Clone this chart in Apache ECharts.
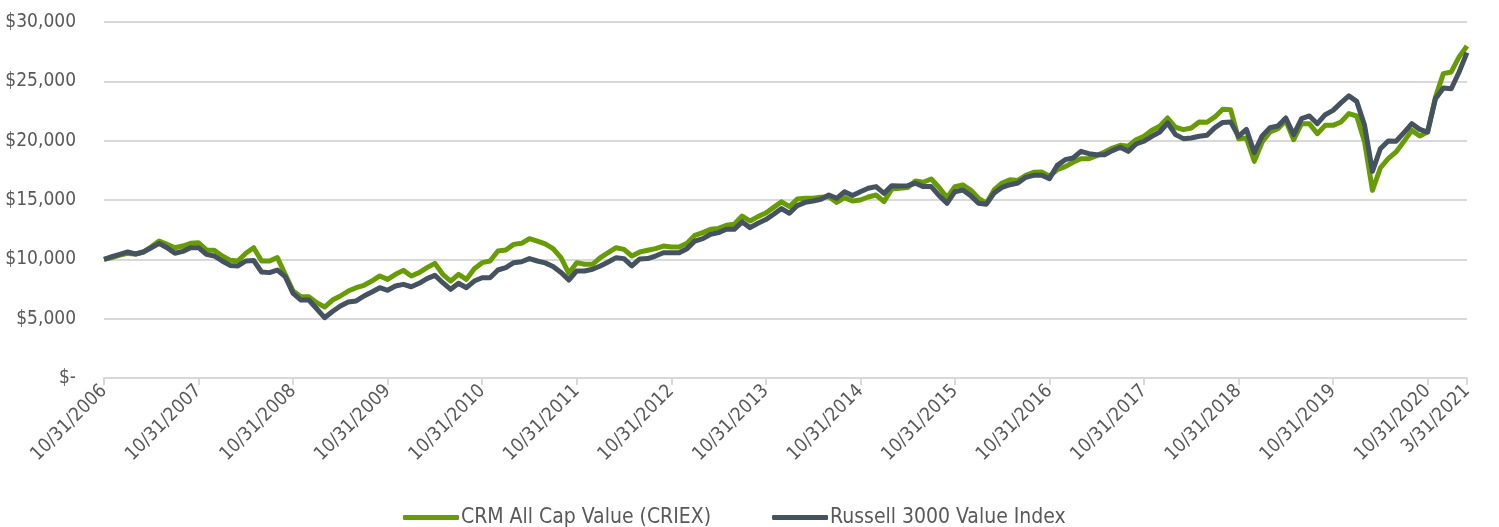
<!DOCTYPE html>
<html>
<head>
<meta charset="utf-8">
<script src="https://cdn.jsdelivr.net/npm/echarts@6/dist/echarts.min.js"></script>
<style>
  html, body { margin: 0; padding: 0; background: #fff; }
  #chart { width: 1499px; height: 527px; }
</style>
</head>
<body>
<div id="chart"></div>
<script>
// month-end dates, 10/31/2006 .. 3/31/2021
var months = [];
(function () {
  var y = 2006, m = 10;
  while (y < 2021 || (y === 2021 && m <= 3)) {
    var last = new Date(y, m, 0).getDate();
    months.push(m + '/' + last + '/' + y);
    m++;
    if (m > 12) { m = 1; y++; }
  }
})();

var shownLabels = ['10/31/2006', '10/31/2007', '10/31/2008', '10/31/2009', '10/31/2010',
  '10/31/2011', '10/31/2012', '10/31/2013', '10/31/2014', '10/31/2015', '10/31/2016',
  '10/31/2017', '10/31/2018', '10/31/2019', '10/31/2020', '3/31/2021'];

var yTicks = [0, 5000, 10000, 15000, 20000, 25000, 30000];

var crmValues = [
  10000, 10150, 10350, 10500, 10450, 10620, 11050, 11540, 11260, 10980, 11120, 11350,
  11400, 10790, 10760, 10280, 9920, 9860, 10510, 10980, 9860, 9860, 10140, 8740,
  7330, 6850, 6850, 6350, 5980, 6570, 6910, 7330, 7610, 7810, 8170, 8600,
  8310, 8740, 9070, 8600, 8880, 9300, 9660, 8740, 8170, 8740, 8310, 9210,
  9720, 9860, 10700, 10790, 11260, 11350, 11740, 11540, 11300, 10900, 10140, 8820,
  9720, 9580, 9580, 10140, 10560, 10980, 10840, 10280, 10620, 10760, 10900, 11120,
  11040, 11040, 11350, 12020, 12250, 12530, 12610, 12870, 12950, 13650, 13230, 13600,
  13900, 14380, 14850, 14440, 15080, 15140, 15140, 15230, 15280, 14800, 15200, 14920,
  15000, 15250, 15420, 14860, 15930, 15990, 16050, 16600, 16490, 16770, 16050, 15200,
  16130, 16270, 15840, 15140, 14740, 15870, 16430, 16710, 16650, 17080, 17340, 17370,
  17000, 17560, 17810, 18180, 18480, 18480, 18740, 19050, 19380, 19610, 19530, 20080,
  20370, 20880, 21210, 21910, 21130, 20930, 21070, 21580, 21550, 22000, 22650, 22610,
  20170, 20230, 18260, 19890, 20730, 21010, 21690, 20080, 21430, 21430, 20590, 21290,
  21290, 21580, 22280, 22080, 19890, 15810, 17700, 18480, 19050, 19940, 20870, 20400,
  20730, 23680, 25650, 25790, 27060, 27980
];

var russellValues = [
  10000, 10220, 10420, 10620, 10450, 10620, 10980, 11350, 10980, 10510, 10670, 10980,
  10980, 10420, 10280, 9860, 9490, 9440, 9860, 9900, 8930, 8880, 9100, 8540,
  7130, 6570, 6570, 5840, 5080, 5600, 6070, 6400, 6490, 6910, 7250, 7610,
  7390, 7750, 7890, 7690, 7980, 8370, 8650, 8030, 7470, 7980, 7610, 8170,
  8450, 8450, 9100, 9300, 9720, 9800, 10060, 9860, 9700, 9400, 8900, 8260,
  9020, 9020, 9160, 9440, 9780, 10140, 10060, 9440, 10030, 10060, 10280, 10560,
  10560, 10560, 10900, 11540, 11740, 12110, 12250, 12530, 12530, 13150, 12670, 13040,
  13350, 13800, 14280, 13880, 14530, 14800, 14920, 15060, 15420, 15140, 15700, 15370,
  15700, 15990, 16130, 15560, 16210, 16180, 16210, 16410, 16130, 16130, 15370, 14720,
  15700, 15840, 15370, 14720, 14650, 15600, 16070, 16290, 16430, 16910, 17080, 17080,
  16800, 17920, 18400, 18540, 19100, 18900, 18820, 18820, 19160, 19440, 19100, 19720,
  19950, 20370, 20730, 21490, 20510, 20170, 20230, 20370, 20450, 21100, 21540, 21580,
  20360, 20950, 18990, 20400, 21100, 21240, 21910, 20510, 21860, 22080, 21430, 22190,
  22550, 23180, 23770, 23310, 21290, 17410, 19320, 19980, 19950, 20680, 21430, 20950,
  20730, 23540, 24440, 24380, 25790, 27420
];

var seriesNames = ['CRM All Cap Value (CRIEX)', 'Russell 3000 Value Index'];
var seriesColors = ['#689c06', '#44535f'];

var fontFamily = '"Liberation Sans Narrow", "DejaVu Sans Condensed", "Roboto", sans-serif';
var textColor = '#595959';

function showTick(index, value) {
  return shownLabels.indexOf(value) !== -1;
}

var chart = echarts.init(document.getElementById('chart'), null, { renderer: 'canvas' });

chart.setOption({
  animation: false,
  backgroundColor: '#ffffff',
  grid: { left: 104, right: 32, top: 22, bottom: 149, containLabel: false },
  legend: {
    top: 502,
    left: 398,
    itemGap: 61,
    itemWidth: 56,
    itemHeight: 5,
    icon: 'roundRect',
    textStyle: { fontFamily: fontFamily, fontSize: 21, color: textColor, padding: [0, 0, 0, -3] },
    data: seriesNames
  },
  xAxis: {
    type: 'category',
    data: months,
    boundaryGap: false,
    axisLine: { lineStyle: { color: '#d9d9d9', width: 2 } },
    axisTick: { interval: showTick, length: 7, lineStyle: { color: '#d9d9d9', width: 2 } },
    axisLabel: {
      interval: showTick,
      rotate: 45,
      margin: 10,
      fontFamily: fontFamily,
      fontSize: 19,
      color: textColor
    },
    splitLine: { show: false }
  },
  yAxis: {
    type: 'value',
    min: yTicks[0],
    max: yTicks[yTicks.length - 1],
    interval: yTicks[1] - yTicks[0],
    axisLine: { show: false },
    axisTick: { show: false },
    axisLabel: {
      margin: 28,
      fontFamily: fontFamily,
      fontSize: 19,
      color: textColor,
      formatter: function (v) {
        return v === 0 ? '$-' : '$' + v.toLocaleString('en-US');
      }
    },
    splitLine: { lineStyle: { color: '#d9d9d9', width: 2 } }
  },
  series: [
    {
      name: seriesNames[0],
      type: 'line',
      data: crmValues,
      showSymbol: false,
      symbol: 'none',
      color: seriesColors[0],
      lineStyle: { width: 5, color: seriesColors[0], join: 'round' }
    },
    {
      name: seriesNames[1],
      type: 'line',
      data: russellValues,
      showSymbol: false,
      symbol: 'none',
      color: seriesColors[1],
      lineStyle: { width: 5, color: seriesColors[1], join: 'round' }
    }
  ]
});
</script>
</body>
</html>
